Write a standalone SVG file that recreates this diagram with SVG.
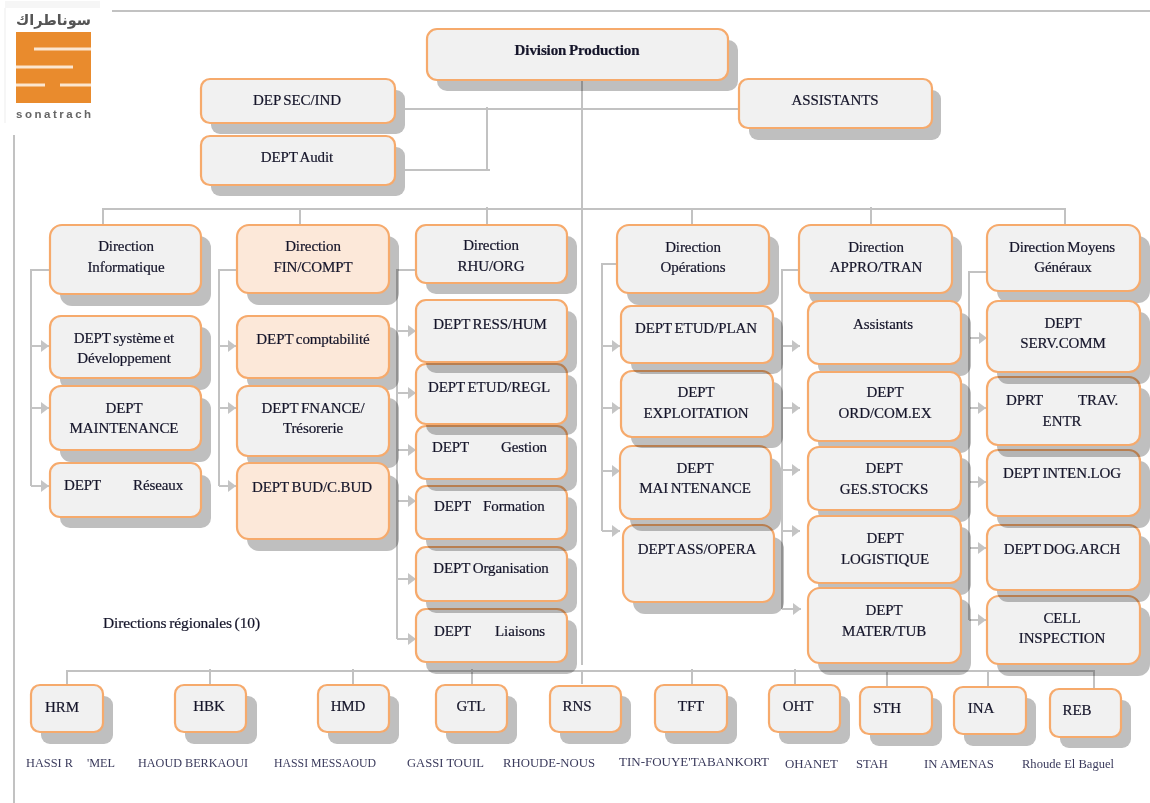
<svg xmlns="http://www.w3.org/2000/svg" width="1150" height="803" viewBox="0 0 1150 803">
<defs>
<marker id="ar" markerUnits="userSpaceOnUse" markerWidth="9" markerHeight="12" refX="8" refY="6" orient="auto"><path d="M0 0L8 6L0 12z" fill="#c4c4c4"/></marker>
</defs>
<style>
text{font-family:"Liberation Serif","Times New Roman",serif;font-size:15px;fill:#15152a;text-anchor:middle;stroke:#15152a;stroke-width:.2;word-spacing:-1px;letter-spacing:-.1px}
.c{fill:none;stroke:#c2c2c2;stroke-width:2}
.a{fill:none;stroke:#c4c4c4;stroke-width:2;marker-end:url(#ar)}
.s{fill:#bfbfbf;mix-blend-mode:multiply}
.b{fill:#f1f1f1;stroke:#f6aa6c;stroke-width:2.2}
.o{fill:#fce8d9;stroke:#f6aa6c;stroke-width:2.2}
.h{font-weight:bold}
.st{text-anchor:start}
.l{font-size:12.5px;fill:#3a3a5c;stroke:none;text-anchor:start;word-spacing:0;letter-spacing:0}
</style>
<g id="logo">
<rect x="5" y="1" width="95" height="7" fill="#f6f6f6"/>
<rect x="4" y="8" width="2" height="115" fill="#f6f6f6"/>
<text x="16" y="25" textLength="75" lengthAdjust="spacingAndGlyphs" style="font-family:'DejaVu Sans',sans-serif;font-size:15px;font-weight:bold;fill:#555;stroke:none;text-anchor:start;letter-spacing:0">سوناطراك</text>
<rect x="16" y="32" width="75" height="71" fill="#e98b2d"/>
<path d="M34 49H91M16 67H73M16 85H45M60 85H91" stroke="#fbe6d0" stroke-width="3" fill="none"/>
<text x="16" y="118" textLength="75" lengthAdjust="spacing" style="font-family:'Liberation Sans',sans-serif;font-size:11.5px;font-weight:bold;fill:#666;stroke:none;text-anchor:start">sonatrach</text>
</g>
<g id="connectors">
<path class="c" d="M112 11H1150M14 135V803"/>
<path class="c" d="M582 79V665M582 671V684M405 109H739M405 170H490M487 107V170"/>
<path class="c" d="M103 225V209H1065V225M300 209V225M487 207V225M692 209V225M871 207V225"/>
<path class="c" d="M50 270H31V486M237 270H219V486M416 270H397V639M617 264H602V531M800 270H782V609M987 272H969V620"/>
<path class="a" d="M31 346H49"/><path class="a" d="M31 408H49"/><path class="a" d="M31 486H49"/>
<path class="a" d="M219 346H236"/><path class="a" d="M219 408H236"/><path class="a" d="M219 486H236"/>
<path class="a" d="M397 331H416"/><path class="a" d="M397 393H416"/><path class="a" d="M397 450H416"/><path class="a" d="M397 501H416"/><path class="a" d="M397 579H416"/><path class="a" d="M397 639H416"/>
<path class="a" d="M602 346H620"/><path class="a" d="M602 408H620"/><path class="a" d="M602 471H620"/><path class="a" d="M602 531H620"/>
<path class="a" d="M782 346H800"/><path class="a" d="M782 408H800"/><path class="a" d="M782 470H800"/><path class="a" d="M782 531H800"/><path class="a" d="M782 609H801"/>
<path class="a" d="M969 338H987"/><path class="a" d="M969 408H986"/><path class="a" d="M969 482H986"/><path class="a" d="M969 548H986"/><path class="a" d="M969 620H986"/>
<path class="c" d="M67 684V671H1094V688M210 669V684M353 669V684M472 669V684M692 669V684M795 669V684M887 671V686M988 671V686"/>
</g>
<g id="division"><rect class="s" x="437" y="40" width="301" height="51" rx="10"/><rect class="b" x="427" y="29" width="301" height="51" rx="10"/><text class="h" x="577" y="55">Division Production</text></g>
<g id="sec"><rect class="s" x="211" y="90" width="194" height="44" rx="9"/><rect class="b" x="201" y="79" width="194" height="44" rx="9"/><text x="297" y="105">DEP SEC/IND</text></g>
<g id="audit"><rect class="s" x="211" y="147" width="194" height="49" rx="9"/><rect class="b" x="201" y="136" width="194" height="49" rx="9"/><text x="297" y="162">DEPT Audit</text></g>
<g id="assistants"><rect class="s" x="749" y="90" width="192" height="50" rx="9"/><rect class="b" x="739" y="79" width="193" height="49" rx="9"/><text x="835" y="105">ASSISTANTS</text></g>

<g id="dir-info"><rect class="s" x="60" y="236" width="151" height="70" rx="12"/><rect class="b" x="50" y="225" width="151" height="69" rx="12"/><text x="126" y="251">Direction</text><text x="126" y="272">Informatique</text></g>
<g id="d-sys"><rect class="s" x="60" y="327" width="151" height="63" rx="11"/><rect class="b" x="50" y="316" width="151" height="62" rx="11"/><text x="124" y="343">DEPT système et</text><text x="124" y="363">Développement</text></g>
<g id="d-maint"><rect class="s" x="60" y="398" width="151" height="64" rx="11"/><rect class="b" x="50" y="386" width="151" height="64" rx="11"/><text x="124" y="413">DEPT</text><text x="124" y="433">MAINTENANCE</text></g>
<g id="d-res"><rect class="s" x="60" y="475" width="151" height="53" rx="10"/><rect class="b" x="50" y="463" width="151" height="54" rx="10"/><text class="st" x="64" y="490">DEPT</text><text class="st" x="133" y="490">Réseaux</text></g>

<g id="dir-fin"><rect class="s" x="247" y="236" width="152" height="69" rx="12"/><rect class="o" x="237" y="225" width="152" height="68" rx="12"/><text x="313" y="251">Direction</text><text x="313" y="272">FIN/COMPT</text></g>
<g id="d-compta"><rect class="s" x="247" y="327" width="152" height="63" rx="11"/><rect class="o" x="237" y="316" width="152" height="62" rx="11"/><text x="313" y="344">DEPT comptabilité</text></g>
<g id="d-fin"><rect class="s" x="247" y="398" width="152" height="70" rx="11"/><rect class="b" x="237" y="386" width="152" height="70" rx="11"/><text x="313" y="413">DEPT FNANCE/</text><text x="313" y="433">Trésorerie</text></g>
<g id="d-bud"><rect class="s" x="247" y="475" width="152" height="76" rx="12"/><rect class="o" x="237" y="463" width="152" height="76" rx="12"/><text x="312" y="492">DEPT BUD/C.BUD</text></g>

<g id="dir-rhu"><rect class="s" x="426" y="236" width="151" height="58" rx="10"/><rect class="b" x="416" y="225" width="151" height="58" rx="10"/><text x="491" y="250">Direction</text><text x="491" y="271">RHU/ORG</text></g>
<g id="d-liais"><rect class="s" x="426" y="620" width="151" height="54" rx="10"/><rect class="b" x="416" y="609" width="151" height="53" rx="10"/><text class="st" x="434" y="636">DEPT</text><text class="st" x="495" y="636">Liaisons</text></g>
<g id="d-org"><rect class="s" x="426" y="558" width="151" height="55" rx="10"/><rect class="b" x="416" y="547" width="151" height="54" rx="10"/><text x="491" y="573">DEPT Organisation</text></g>
<g id="d-form"><rect class="s" x="426" y="497" width="151" height="54" rx="10"/><rect class="b" x="416" y="486" width="151" height="53" rx="10"/><text class="st" x="434" y="511">DEPT</text><text class="st" x="483" y="511">Formation</text></g>
<g id="d-gest"><rect class="s" x="426" y="437" width="151" height="54" rx="10"/><rect class="b" x="416" y="426" width="151" height="53" rx="10"/><text class="st" x="432" y="452">DEPT</text><text class="st" x="501" y="452">Gestion</text></g>
<g id="d-etud"><rect class="s" x="426" y="375" width="151" height="60" rx="10"/><rect class="b" x="416" y="364" width="151" height="60" rx="10"/><text x="489" y="392">DEPT ETUD/REGL</text></g>
<g id="d-ress"><rect class="s" x="426" y="311" width="151" height="62" rx="10"/><rect class="b" x="416" y="300" width="151" height="62" rx="10"/><text x="490" y="329">DEPT RESS/HUM</text></g>

<g id="dir-ops"><rect class="s" x="627" y="236" width="152" height="69" rx="12"/><rect class="b" x="617" y="225" width="152" height="68" rx="12"/><text x="693" y="252">Direction</text><text x="693" y="272">Opérations</text></g>
<g id="o-ass"><rect class="s" x="633" y="537" width="151" height="77" rx="12"/><rect class="b" x="623" y="525" width="151" height="77" rx="12"/><text x="697" y="554">DEPT ASS/OPERA</text></g>
<g id="o-maint"><rect class="s" x="630" y="458" width="151" height="73" rx="12"/><rect class="b" x="620" y="446" width="151" height="73" rx="12"/><text x="695" y="473">DEPT</text><text x="695" y="493">MAI NTENANCE</text></g>
<g id="o-expl"><rect class="s" x="631" y="382" width="152" height="66" rx="11"/><rect class="b" x="621" y="371" width="152" height="66" rx="11"/><text x="696" y="397">DEPT</text><text x="696" y="418">EXPLOITATION</text></g>
<g id="o-etud"><rect class="s" x="631" y="317" width="152" height="57" rx="10"/><rect class="b" x="621" y="306" width="152" height="57" rx="10"/><text x="696" y="333">DEPT ETUD/PLAN</text></g>

<g id="dir-appro"><rect class="s" x="809" y="236" width="153" height="69" rx="12"/><rect class="b" x="799" y="225" width="153" height="68" rx="12"/><text x="876" y="252">Direction</text><text x="876" y="272">APPRO/TRAN</text></g>
<g id="a-ass"><rect class="s" x="818" y="313" width="153" height="63" rx="11"/><rect class="b" x="808" y="301" width="153" height="63" rx="11"/><text x="883" y="329">Assistants</text></g>
<g id="a-ord"><rect class="s" x="818" y="383" width="153" height="70" rx="11"/><rect class="b" x="808" y="372" width="153" height="69" rx="11"/><text x="885" y="397">DEPT</text><text x="885" y="418">ORD/COM.EX</text></g>
<g id="a-ges"><rect class="s" x="818" y="458" width="153" height="64" rx="11"/><rect class="b" x="808" y="447" width="153" height="63" rx="11"/><text x="884" y="473">DEPT</text><text x="884" y="494">GES.STOCKS</text></g>
<g id="a-log"><rect class="s" x="818" y="527" width="153" height="68" rx="11"/><rect class="b" x="808" y="516" width="153" height="67" rx="11"/><text x="885" y="543">DEPT</text><text x="885" y="564">LOGISTIQUE</text></g>
<g id="a-mat"><rect class="s" x="818" y="599" width="153" height="76" rx="12"/><rect class="b" x="808" y="588" width="153" height="75" rx="12"/><text x="884" y="615">DEPT</text><text x="884" y="636">MATER/TUB</text></g>

<g id="dir-moy"><rect class="s" x="997" y="236" width="153" height="67" rx="12"/><rect class="b" x="987" y="225" width="153" height="66" rx="12"/><text x="1062" y="252">Direction Moyens</text><text x="1063" y="272">Généraux</text></g>
<g id="m-cell"><rect class="s" x="997" y="607" width="153" height="69" rx="12"/><rect class="b" x="987" y="596" width="153" height="68" rx="12"/><text x="1062" y="623">CELL</text><text x="1062" y="643">INSPECTION</text></g>
<g id="m-dog"><rect class="s" x="997" y="536" width="153" height="66" rx="11"/><rect class="b" x="987" y="525" width="153" height="65" rx="11"/><text x="1062" y="554">DEPT DOG.ARCH</text></g>
<g id="m-inten"><rect class="s" x="997" y="461" width="153" height="67" rx="11"/><rect class="b" x="987" y="450" width="153" height="66" rx="11"/><text x="1062" y="478">DEPT INTEN.LOG</text></g>
<g id="m-trav"><rect class="s" x="997" y="388" width="153" height="69" rx="11"/><rect class="b" x="987" y="377" width="153" height="68" rx="11"/><text class="st" x="1006" y="405">DPRT</text><text class="st" x="1078" y="405">TRAV.</text><text x="1062" y="426">ENTR</text></g>
<g id="m-serv"><rect class="s" x="997" y="312" width="153" height="72" rx="11"/><rect class="b" x="987" y="301" width="153" height="71" rx="11"/><text x="1063" y="328">DEPT</text><text x="1063" y="348">SERV.COMM</text></g>

<g id="r-hrm"><rect class="s" x="41" y="696" width="72" height="48" rx="9"/><rect class="b" x="31" y="685" width="72" height="47" rx="9"/><text x="62" y="712">HRM</text></g>
<g id="r-hbk"><rect class="s" x="185" y="696" width="72" height="48" rx="9"/><rect class="b" x="175" y="685" width="71" height="47" rx="9"/><text x="209" y="711">HBK</text></g>
<g id="r-hmd"><rect class="s" x="328" y="696" width="71" height="48" rx="9"/><rect class="b" x="318" y="685" width="71" height="47" rx="9"/><text x="348" y="711">HMD</text></g>
<g id="r-gtl"><rect class="s" x="446" y="696" width="71" height="48" rx="9"/><rect class="b" x="436" y="685" width="71" height="47" rx="9"/><text x="471" y="711">GTL</text></g>
<g id="r-rns"><rect class="s" x="560" y="696" width="71" height="48" rx="9"/><rect class="b" x="550" y="686" width="71" height="46" rx="9"/><text x="577" y="711">RNS</text></g>
<g id="r-tft"><rect class="s" x="665" y="696" width="72" height="48" rx="9"/><rect class="b" x="655" y="685" width="72" height="47" rx="9"/><text x="691" y="711">TFT</text></g>
<g id="r-oht"><rect class="s" x="779" y="696" width="71" height="48" rx="9"/><rect class="b" x="769" y="685" width="71" height="47" rx="9"/><text x="798" y="711">OHT</text></g>
<g id="r-sth"><rect class="s" x="870" y="698" width="72" height="48" rx="9"/><rect class="b" x="860" y="687" width="72" height="47" rx="9"/><text x="887" y="713">STH</text></g>
<g id="r-ina"><rect class="s" x="964" y="698" width="72" height="48" rx="9"/><rect class="b" x="954" y="687" width="72" height="47" rx="9"/><text x="981" y="713">INA</text></g>
<g id="r-reb"><rect class="s" x="1060" y="700" width="71" height="48" rx="9"/><rect class="b" x="1050" y="689" width="71" height="48" rx="9"/><text x="1077" y="715">REB</text></g>

<text id="regions-title" class="st" x="103" y="628" textLength="157" lengthAdjust="spacingAndGlyphs">Directions régionales (10)</text>
<g id="labels">
<text class="l" x="26" y="767" textLength="47" lengthAdjust="spacingAndGlyphs">HASSI R</text>
<text class="l" x="87" y="767" textLength="28" lengthAdjust="spacingAndGlyphs">'MEL</text>
<text class="l" x="138" y="767" textLength="110" lengthAdjust="spacingAndGlyphs">HAOUD BERKAOUI</text>
<text class="l" x="274" y="767" textLength="102" lengthAdjust="spacingAndGlyphs">HASSI MESSAOUD</text>
<text class="l" x="407" y="767" textLength="77" lengthAdjust="spacingAndGlyphs">GASSI TOUIL</text>
<text class="l" x="503" y="767" textLength="92" lengthAdjust="spacingAndGlyphs">RHOUDE-NOUS</text>
<text class="l" x="619" y="766" textLength="150" lengthAdjust="spacingAndGlyphs">TIN-FOUYE'TABANKORT</text>
<text class="l" x="785" y="768" textLength="53" lengthAdjust="spacingAndGlyphs">OHANET</text>
<text class="l" x="856" y="768" textLength="32" lengthAdjust="spacingAndGlyphs">STAH</text>
<text class="l" x="924" y="768" textLength="70" lengthAdjust="spacingAndGlyphs">IN AMENAS</text>
<text class="l" x="1022" y="768" textLength="92" lengthAdjust="spacingAndGlyphs">Rhoude El Baguel</text>
</g>
</svg>
